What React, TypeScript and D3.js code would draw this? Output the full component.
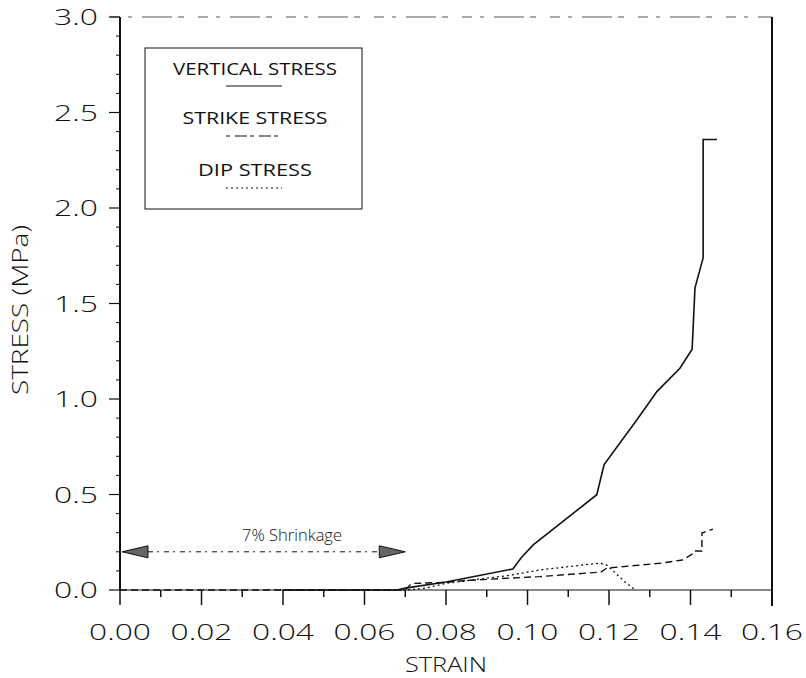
import React from "react";
import * as d3 from "d3";

const verticalStrain = [0.04, 0.068, 0.07, 0.08, 0.0964, 0.0985, 0.1014, 0.117, 0.1188, 0.1269, 0.1318, 0.1374, 0.1404, 0.1411, 0.1431, 0.1431, 0.1465];
const verticalStress = [0.0, 0.0, 0.01, 0.042, 0.11, 0.17, 0.236, 0.499, 0.657, 0.893, 1.04, 1.161, 1.261, 1.582, 1.739, 2.359, 2.359];

const strikeStrain = [0.0, 0.07, 0.0715, 0.08, 0.085, 0.0964, 0.103, 0.118, 0.1195, 0.133, 0.138, 0.1406, 0.141, 0.1428, 0.1428, 0.1455];
const strikeStress = [0.0, 0.0, 0.034, 0.04, 0.05, 0.063, 0.07, 0.094, 0.115, 0.141, 0.157, 0.19, 0.204, 0.204, 0.298, 0.319];

const dipStrain = [0.04, 0.07, 0.075, 0.08, 0.095, 0.103, 0.1178, 0.1195, 0.124, 0.1265];
const dipStress = [0.0, 0.0, 0.01, 0.035, 0.075, 0.105, 0.141, 0.13, 0.04, 0.0];

const xTicks = [0.0, 0.02, 0.04, 0.06, 0.08, 0.1, 0.12, 0.14, 0.16];
const xTickLabels = ["0.00", "0.02", "0.04", "0.06", "0.08", "0.10", "0.12", "0.14", "0.16"];
const xMinor = [0.01, 0.03, 0.05, 0.07, 0.09, 0.11, 0.13, 0.15];
const yTicks = [0.0, 0.5, 1.0, 1.5, 2.0, 2.5, 3.0];
const yTickLabels = ["0.0", "0.5", "1.0", "1.5", "2.0", "2.5", "3.0"];
const yMinor = d3.range(0, 30).map((i) => i / 10).filter((v) => Math.round(v * 10) % 5 !== 0);

const legendLabels = ["VERTICAL STRESS", "STRIKE STRESS", "DIP STRESS"];
const shrinkageLabel = "7% Shrinkage";
const shrinkageRange = [0.0, 0.07];
const shrinkageLevel = 0.2;

export default function App() {
  const x = d3.scaleLinear().domain([0, 0.16]).range([120, 772]);
  const y = d3.scaleLinear().domain([0, 3]).range([590, 17]);
  const line = d3
    .line<[number, number]>()
    .x((d) => x(d[0]))
    .y((d) => y(d[1]));
  const zip = (a: number[], b: number[]) => a.map((v, i) => [v, b[i]] as [number, number]);

  const ink = "#111";
  const labelFont = "'Open Sans', 'DejaVu Sans', sans-serif";
  const ax0 = x(0);
  const ay0 = y(0);
  const sy = y(shrinkageLevel);
  const sx0 = x(shrinkageRange[0]);
  const sx1 = x(shrinkageRange[1]);

  const legendSpecs = [
    { label: legendLabels[0], ty: 75, ly: 86, dash: "none", len: 164 },
    { label: legendLabels[1], ty: 124, ly: 136, dash: "4,5,12,3", len: 145 },
    { label: legendLabels[2], ty: 176, ly: 188, dash: "2,3", len: 114 },
  ];

  return (
    <div style={{ position: "absolute", left: 0, top: 0 }}>
      <svg width={806} height={678} style={{ display: "block", background: "#fff" }}>
        {/* frame */}
        <line x1={ax0 - 10} y1={y(3)} x2={x(0.16)} y2={y(3)} stroke="#555" strokeWidth={1} strokeDasharray="10,8,4,10,30,6,6,14" />
        <line x1={x(0.16)} y1={y(3)} x2={x(0.16)} y2={ay0 + 16} stroke={ink} strokeWidth={2} />
        <line x1={ax0} y1={y(3)} x2={ax0} y2={ay0} stroke={ink} strokeWidth={2} />
        <line x1={ax0} y1={ay0} x2={x(0.16)} y2={ay0} stroke={ink} strokeWidth={1.2} />

        {/* x ticks */}
        {xTicks.slice(0, -1).map((t, i) => (
          <line key={"xt" + i} x1={x(t)} x2={x(t)} y1={ay0} y2={ay0 + 15} stroke={ink} strokeWidth={1.5} />
        ))}
        {xMinor.map((t, i) => (
          <line key={"xm" + i} x1={x(t)} x2={x(t)} y1={ay0} y2={ay0 + 7} stroke={ink} strokeWidth={1.5} />
        ))}
        {xTicks.map((t, i) => (
          <text key={"xl" + i} x={x(t)} y={ay0 + 50} textAnchor="middle" fontFamily={labelFont} fontWeight={300} fontSize={22} textLength={62} lengthAdjust="spacingAndGlyphs" fill={ink}>
            {xTickLabels[i]}
          </text>
        ))}

        {/* y ticks */}
        {yTicks.map((t, i) => (
          <line key={"yt" + i} x1={ax0 - 11} x2={ax0} y1={y(t)} y2={y(t)} stroke={ink} strokeWidth={1.2} />
        ))}
        {yMinor.map((t, i) => (
          <line key={"ym" + i} x1={ax0 - 4} x2={ax0} y1={y(t)} y2={y(t)} stroke={ink} strokeWidth={1} />
        ))}
        {yTicks.map((t, i) => (
          <text key={"yl" + i} x={98} y={y(t) + 8} textAnchor="end" fontFamily={labelFont} fontWeight={300} fontSize={22} textLength={44} lengthAdjust="spacingAndGlyphs" fill={ink}>
            {yTickLabels[i]}
          </text>
        ))}

        {/* axis titles */}
        <text x={446} y={672} textAnchor="middle" fontFamily={labelFont} fontWeight={300} fontSize={20} textLength={82} lengthAdjust="spacingAndGlyphs" fill={ink}>
          STRAIN
        </text>
        <text
          transform="translate(28,310) rotate(-90)"
          textAnchor="middle"
          fontFamily={labelFont}
          fontWeight={300}
          fontSize={22}
          textLength={170}
          lengthAdjust="spacingAndGlyphs"
          fill={ink}
        >
          STRESS (MPa)
        </text>

        {/* legend */}
        <rect x={145} y={48} width={217} height={161} fill="none" stroke={ink} strokeWidth={1} />
        {legendSpecs.map((s, i) => (
          <g key={"lg" + i}>
            <text
              x={255}
              y={s.ty}
              textAnchor="middle"
              fontFamily={labelFont}
              fontWeight={400}
              fontSize={17}
              textLength={s.len}
              lengthAdjust="spacingAndGlyphs"
              fill={ink}
            >
              {s.label}
            </text>
            <line x1={226} x2={282} y1={s.ly} y2={s.ly} stroke={ink} strokeWidth={1.2} strokeDasharray={s.dash} />
          </g>
        ))}

        {/* shrinkage annotation */}
        <text x={292} y={541} textAnchor="middle" fontFamily={labelFont} fontWeight={300} fontSize={17} textLength={100} lengthAdjust="spacingAndGlyphs" fill={ink}>
          {shrinkageLabel}
        </text>
        <line x1={sx0 + 28} x2={sx1 - 26} y1={sy} y2={sy} stroke={ink} strokeWidth={1} strokeDasharray="5,4,2,5" />
        <path d={`M${sx0 + 2},${sy} L${sx0 + 28},${sy - 6} L${sx0 + 28},${sy + 6} Z`} fill="#666" stroke={ink} strokeWidth={1} />
        <path d={`M${sx1},${sy} L${sx1 - 26},${sy - 6} L${sx1 - 26},${sy + 6} Z`} fill="#666" stroke={ink} strokeWidth={1} />

        {/* series */}
        <path d={line(zip(dipStrain, dipStress)) || ""} fill="none" stroke={ink} strokeWidth={1.3} strokeDasharray="2,3" />
        <path d={line(zip(strikeStrain, strikeStress)) || ""} fill="none" stroke={ink} strokeWidth={1.4} strokeDasharray="7,4" />
        <path d={line(zip(verticalStrain, verticalStress)) || ""} fill="none" stroke={ink} strokeWidth={1.6} />
      </svg>
    </div>
  );
}
